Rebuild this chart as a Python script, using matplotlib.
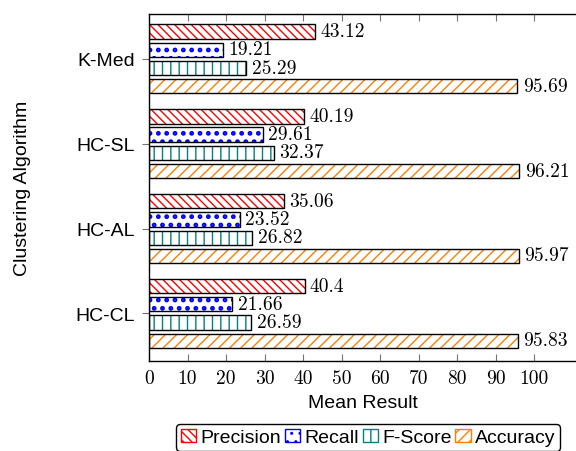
import matplotlib
matplotlib.use("Agg")
import matplotlib.pyplot as plt
from matplotlib.patches import Patch
import numpy as np

plt.rcParams['axes.formatter.use_mathtext'] = True
plt.rcParams['hatch.linewidth'] = 1.0

categories = ["K-Med", "HC-SL", "HC-AL", "HC-CL"]
series = ["Precision", "Recall", "F-Score", "Accuracy"]
precision = [43.12, 40.19, 35.06, 40.4]
recall = [19.21, 29.61, 23.52, 21.66]
fscore = [25.29, 32.37, 26.82, 26.59]
accuracy = [95.69, 96.21, 95.97, 95.83]
value_labels = {
    "Precision": ["43.12", "40.19", "35.06", "40.4"],
    "Recall": ["19.21", "29.61", "23.52", "21.66"],
    "F-Score": ["25.29", "32.37", "26.82", "26.59"],
    "Accuracy": ["95.69", "96.21", "95.97", "95.83"],
}
xticks = [0, 10, 20, 30, 40, 50, 60, 70, 80, 90, 100]

values = [precision, recall, fscore, accuracy]
colors = ["red", "blue", "teal", "#ff7f00"]
hatches = ["\\\\\\\\", "..", "||", "///"]
hatch_lw = [1.0, 2.2, 1.0, 1.0]

SERIF = "cmr10"
SANS = "Liberation Sans"

fig = plt.figure(figsize=(5.76, 4.52), dpi=100)
ax = fig.add_axes([149/576, 1-362/452, 1-149/576, (362-15)/452])

ypos = np.array([3, 2, 1, 0], dtype=float)
step = 0.212
h = 0.165
offsets = [1.5*step, 0.5*step, -0.5*step, -1.5*step]

for s, vals, col, hat, hlw, off in zip(series, values, colors, hatches, hatch_lw, offsets):
    y = ypos + off
    with plt.rc_context({'hatch.linewidth': hlw}):
        bars = ax.barh(y, vals, height=h, color="white", edgecolor=col, hatch=hat, linewidth=0, zorder=2)
    for b in bars:
        if hasattr(b, "set_hatch_linewidth"):
            b.set_hatch_linewidth(hlw)
    ax.barh(y, vals, height=h, facecolor="none", edgecolor="black", linewidth=1.0, zorder=3)
    for yy, v, lab in zip(y, vals, value_labels[s]):
        ax.text(v + 1.4, yy, lab, va="center", ha="left", fontsize=14, family=SERIF, zorder=4)

ax.set_xlim(0, 110.9)
ax.set_ylim(-0.559, 3.524)
ax.set_xticks(xticks)
ax.set_xticklabels([str(t) for t in xticks], fontsize=14, family=SERIF)
ax.set_yticks(ypos)
ax.set_yticklabels(categories, fontsize=14, family=SANS)

ax.spines["right"].set_visible(False)
for sp in ["left", "top", "bottom"]:
    ax.spines[sp].set_linewidth(1.0)
    ax.spines[sp].set_color("black")
ax.tick_params(axis="x", direction="in", length=5, width=0.8, color="0.45", top=True, pad=6)
ax.tick_params(axis="y", direction="out", length=5, width=0.8, color="0.45", pad=5)

ax.set_xlabel("Mean Result", fontsize=14, family=SANS, labelpad=5)
ax.set_ylabel("Clustering Algorithm", fontsize=14, family=SANS)
ax.yaxis.set_label_coords((31-149)/427, 0.5)

handles = []
for c, hh, hlw in zip(colors, hatches, hatch_lw):
    with plt.rc_context({'hatch.linewidth': hlw}):
        handles.append(Patch(facecolor="white", edgecolor=c, hatch=hh, linewidth=1.0))
leg = fig.legend(handles, series, loc="upper center", bbox_to_anchor=(368/576, 1-425/452), ncol=4,
                 prop={"family": SANS, "size": 14}, handlelength=0.8, handleheight=0.7,
                 handletextpad=0.2, columnspacing=0.2, borderpad=0.25, borderaxespad=0,
                 frameon=True, fancybox=True, edgecolor="black", framealpha=1)
leg.get_frame().set_linewidth(1.0)

fig.savefig("out.png", dpi=100)
